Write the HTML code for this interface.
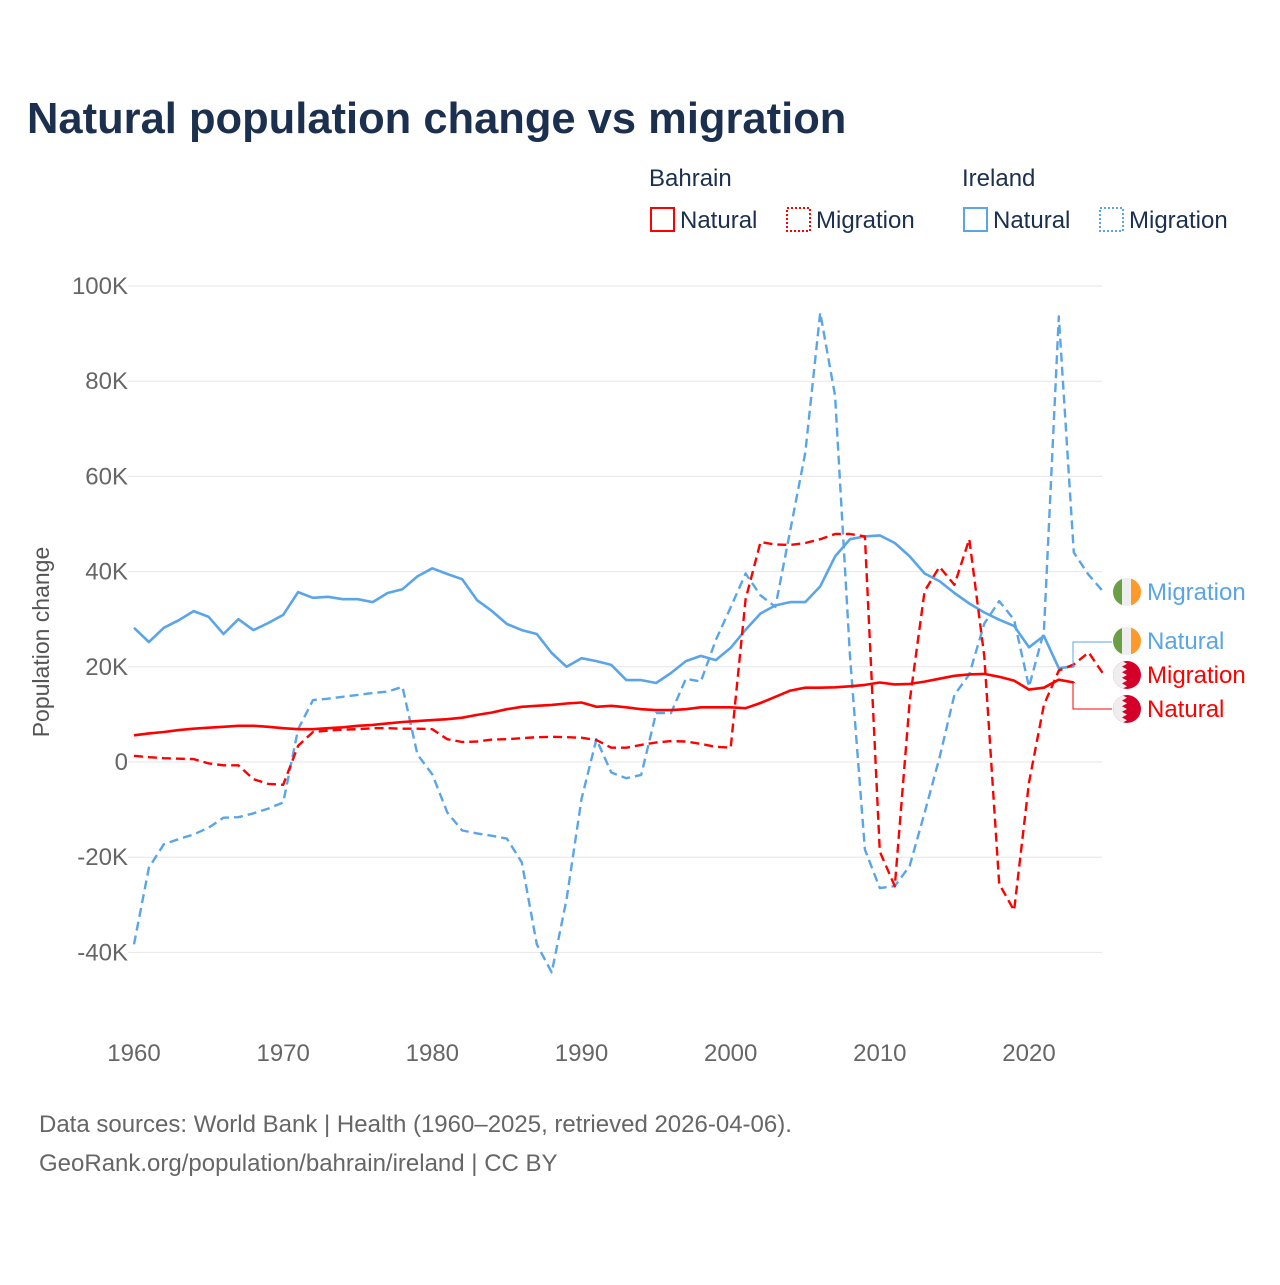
<!DOCTYPE html>
<html><head><meta charset="utf-8"><style>
body{margin:0;background:#fff;width:1280px;height:1280px;overflow:hidden}
svg text{font-family:"Liberation Sans",sans-serif}
</style></head><body>
<svg id="chart" width="1280" height="1280">
<text x="27" y="133" font-size="43.5" font-weight="bold" fill="#1b2f4e">Natural population change vs migration</text>
<g font-size="24" fill="#1b2f4e">
<text x="649" y="186">Bahrain</text>
<text x="962" y="186">Ireland</text>
<g><rect x="651" y="208" width="23" height="23" fill="none" stroke="#ff0000" stroke-width="2"/><text x="680" y="228">Natural</text></g>
<g><rect x="787" y="208" width="23" height="23" fill="none" stroke="#ff0000" stroke-width="2" stroke-dasharray="2,2"/><text x="816" y="228">Migration</text></g>
<g><rect x="964" y="208" width="23" height="23" fill="none" stroke="#5aa5e8" stroke-width="2"/><text x="993" y="228">Natural</text></g>
<g><rect x="1100" y="208" width="23" height="23" fill="none" stroke="#5aa5e8" stroke-width="2" stroke-dasharray="2,2"/><text x="1129" y="228">Migration</text></g>
</g>
<text transform="translate(49,642) rotate(-90)" text-anchor="middle" font-size="23" fill="#555">Population change</text>
<g id="grid"></g><g id="series"></g><g id="labels"></g>
<text x="39" y="1132" font-size="24" fill="#666">Data sources: World Bank | Health (1960–2025, retrieved 2026-04-06).</text>
<text x="39" y="1171" font-size="24" fill="#666">GeoRank.org/population/bahrain/ireland | CC BY</text>
</svg>
<script>
const yTicks=[100,80,60,40,20,0,-20,-40];
const yTickLabels=["100K","80K","60K","40K","20K","0","-20K","-40K"];
const xTicks=[1960,1970,1980,1990,2000,2010,2020];
const bahrainNatural=[5.6,6,6.3,6.7,7,7.2,7.4,7.6,7.6,7.4,7.1,6.9,6.9,7.1,7.3,7.6,7.8,8.1,8.4,8.6,8.8,9,9.3,9.9,10.4,11.1,11.6,11.8,12,12.3,12.5,11.6,11.8,11.5,11.1,10.9,10.9,11.1,11.5,11.5,11.5,11.3,12.4,13.7,15,15.6,15.6,15.7,15.9,16.2,16.7,16.3,16.4,16.9,17.5,18.1,18.4,18.5,17.9,17.1,15.2,15.6,17.3,16.7];
const bahrainMigration=[1.3,1,0.8,0.7,0.6,-0.3,-0.7,-0.7,-3.6,-4.6,-4.8,3.4,6.3,6.6,6.8,6.9,7.1,7.1,7,7,6.9,4.8,4.2,4.3,4.7,4.8,5,5.2,5.3,5.2,5.1,4.6,3,3,3.6,4.1,4.4,4.3,3.8,3.2,3,34.2,46.2,45.7,45.6,46,46.8,47.9,47.9,47.4,-18.8,-26.1,12.8,35.9,41,37.2,46.8,22.2,-25.6,-31.2,-4.3,12,19.2,20.5,23,18.4];
const irelandNatural=[28.2,25.2,28.2,29.8,31.7,30.5,26.9,30,27.7,29.2,30.9,35.7,34.5,34.7,34.2,34.2,33.6,35.5,36.3,39,40.7,39.5,38.4,34,31.7,29,27.7,26.9,22.9,20,21.8,21.2,20.4,17.2,17.2,16.6,18.7,21.2,22.3,21.4,24,27.8,31.2,32.9,33.6,33.6,36.9,43.2,46.8,47.4,47.6,46,43.2,39.6,38,35.5,33.3,31.4,29.9,28.6,24.1,26.5,19.7,20.1];
const irelandMigration=[-38.3,-22.2,-17.3,-16.2,-15.2,-13.8,-11.7,-11.6,-10.8,-9.8,-8.5,6.9,13,13.3,13.7,14.1,14.5,14.8,15.8,1.6,-2.6,-10.6,-14.4,-15,-15.5,-16.1,-21.1,-38.3,-44.2,-28.8,-7.8,4.8,-2.2,-3.4,-2.7,10.3,10.3,17.5,16.9,25.6,32.5,39.6,35,32.6,48.7,65,94.4,76.9,22.2,-18.4,-26.5,-26.1,-21.8,-10.7,0.9,14.1,18.4,29.1,33.8,29.9,15.8,27.4,93.6,44,39.3,35.7];
const NS="http://www.w3.org/2000/svg";
const X=yr=>134+(yr-1960)*(1029-134)/60;
const Y=v=>762-v*4.76;
function mk(tag,attrs,parent){const e=document.createElementNS(NS,tag);for(const k in attrs)e.setAttribute(k,attrs[k]);parent.appendChild(e);return e;}
const grid=document.getElementById('grid');
yTicks.forEach((t,i)=>{
 const l=mk('line',{x1:128,x2:1102,y1:Y(t),y2:Y(t),stroke:'#e6e6e6','stroke-width':1},grid);
 
 
 const tx=mk('text',{x:128,y:Y(t)+8,'text-anchor':'end','font-size':24,fill:'#666'},grid);
 tx.textContent=yTickLabels[i];
 
 
});
xTicks.forEach(t=>{
 const tx=mk('text',{x:X(t),y:1061,'text-anchor':'middle','font-size':24,fill:'#666'},grid);
 tx.textContent=t;
 
 
});
const ser=document.getElementById('series');
function line(data,color,dash,name){
 const d=data.map((v,i)=>(i?'L':'M')+X(1960+i).toFixed(1)+','+Y(v).toFixed(1)).join('');
 const p=mk('path',{d:d,fill:'none',stroke:color,'stroke-width':dash?2.4:2.6,'stroke-linejoin':'round'},ser);
 if(dash)p.setAttribute('stroke-dasharray','9,5');
 
 
}
const BLUE='#5aa5e8',RED='#ff0000';
line(irelandMigration,BLUE,true,'ireland-migration-line');
line(irelandNatural,BLUE,false,'ireland-natural-line');
line(bahrainMigration,RED,true,'bahrain-migration-line');
line(bahrainNatural,RED,false,'bahrain-natural-line');
const lab=document.getElementById('labels');
function conn(v,ly,color){
 const x0=X(1960+63)+1;
 const p=mk('path',{d:`M${x0},${Y(v)}H1073V${ly}H1112`,fill:'none',stroke:color,'stroke-width':1},lab);
 
 
}
conn(irelandNatural[63],642,BLUE);
conn(bahrainNatural[63],709,RED);
function flag(cy,type,text,color){
 const g=mk('g',{},lab);
 
 
 if(type==='ireland'){
  mk('rect',{x:1113,y:cy-14,width:10,height:28,fill:'#6a9f45'},g);
  mk('rect',{x:1122,y:cy-14,width:10,height:28,fill:'#eeeeee'},g);
  mk('rect',{x:1131,y:cy-14,width:10,height:28,fill:'#ff9a2a'},g);
 }else{
  mk('rect',{x:1113,y:cy-14,width:28,height:28,fill:'#d4002a'},g);
  let d=`M1113,${cy-14}H1122`;
  for(let k=0;k<5;k++){d+=`L1127,${cy-14+k*5.6+2.8}L1122,${cy-14+(k+1)*5.6}`;}
  d+=`H1113Z`;
  mk('path',{d:d,fill:'#eeeeee'},g);
 }
 const t=mk('text',{x:1147,y:cy+8,'font-size':24,fill:color},g);
 t.textContent=text;
}
flag(592,'ireland','Migration',BLUE);
flag(641,'ireland','Natural',BLUE);
flag(675,'bahrain','Migration',RED);
flag(709,'bahrain','Natural',RED);
const defs=mk('defs',{},document.getElementById('chart'));
[592,641,675,709].forEach((cy,i)=>{
 const cp=mk('clipPath',{id:'c'+i},defs);
 mk('circle',{cx:1127,cy:cy,r:14},cp);
 [...lab.children[2+i].querySelectorAll('rect,path')].forEach(e=>e.setAttribute('clip-path','url(#c'+i+')'));
});
</script>
</body></html>
